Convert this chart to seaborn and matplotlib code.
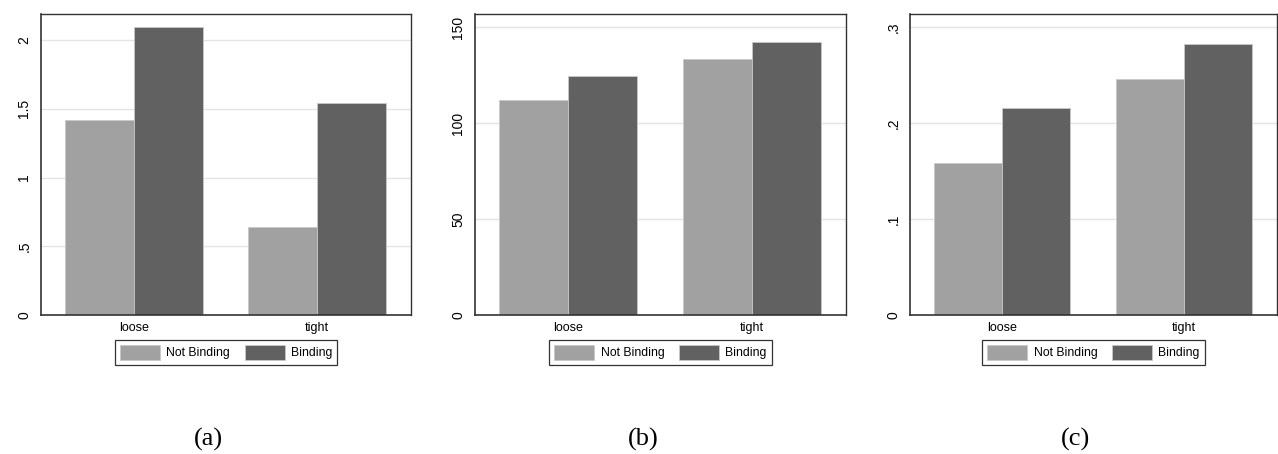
import pandas as pd
import matplotlib
matplotlib.use("Agg")
import matplotlib.pyplot as plt
import seaborn as sns

# values
regimes = ["loose", "tight"]
groups = ["Not Binding", "Binding"]
panel_a = {"Not Binding": [1.418, 0.638], "Binding": [2.095, 1.544]}
panel_b = {"Not Binding": [112.0, 133.3], "Binding": [124.3, 142.4]}
panel_c = {"Not Binding": [0.1587, 0.2457], "Binding": [0.2157, 0.2819]}

ticks_a = [0, 0.5, 1, 1.5, 2]
labels_a = ["0", ".5", "1", "1.5", "2"]
ticks_b = [0, 50, 100, 150]
labels_b = ["0", "50", "100", "150"]
ticks_c = [0, 0.1, 0.2, 0.3]
labels_c = ["0", ".1", ".2", ".3"]

ylims = [2.19, 156.8, 0.3135]
captions = ["(a)", "(b)", "(c)"]

sns.set_style("white")
plt.rcParams['font.family'] = ['Liberation Sans Narrow', 'Liberation Sans', 'DejaVu Sans']
plt.rcParams['text.color'] = 'black'
plt.rcParams['xtick.color'] = 'black'
plt.rcParams['ytick.color'] = 'black'

colors = {"Not Binding": "#a1a1a1", "Binding": "#616161"}

W, H = 1278, 454
fig = plt.figure(figsize=(W / 100, H / 100), dpi=100)

# axes boxes in pixels: left, right, top, bottom
boxes = [(41, 411, 14, 315), (475, 846, 14, 315), (910, 1277, 14, 315)]
cap_x = [208, 643, 1075]

panels = [(panel_a, ticks_a, labels_a),
          (panel_b, ticks_b, labels_b),
          (panel_c, ticks_c, labels_c)]

for i, (vals, ticks, labels) in enumerate(panels):
    l, r, t, b = boxes[i]
    ax = fig.add_axes([l / W, (H - b) / H, (r - l) / W, (b - t) / H])
    rows = []
    for g in groups:
        for reg, v in zip(regimes, vals[g]):
            rows.append({"regime": reg, "group": g, "value": v})
    df = pd.DataFrame(rows)
    sns.barplot(data=df, x="regime", y="value", hue="group", order=regimes,
                hue_order=groups, palette=colors, width=0.75, ax=ax,
                edgecolor="#c8c8c8", linewidth=0.6, saturation=1)
    ax.set_xlim(-0.508, 1.513)
    ax.set_ylim(0, ylims[i])
    ax.set_yticks(ticks)
    ax.set_yticklabels(labels, rotation=90, va="center", fontsize=10)
    ax.tick_params(axis="y", length=4, width=0.8, pad=3, color="black")
    ax.tick_params(axis="x", length=0, pad=5, labelsize=9)
    ax.set_xlabel("")
    ax.set_ylabel("")
    for tk in ticks[1:]:
        ax.axhline(tk, color="#e4e4e4", lw=1, zorder=0)
    for side in ["left", "bottom", "top", "right"]:
        ax.spines[side].set_visible(True)
        ax.spines[side].set_color("#333333")
    ax.spines["left"].set_linewidth(1.2)
    ax.spines["bottom"].set_linewidth(1.2)
    ax.spines["top"].set_linewidth(1.0)
    ax.spines["right"].set_linewidth(1.0)
    ax.set_axisbelow(True)

    ax.get_legend().remove()
    handles = [plt.Rectangle((0, 0), 1, 1, fc=colors[g], ec="#c8c8c8", lw=0.6) for g in groups]
    leg = ax.legend(handles, groups, loc="upper center", bbox_to_anchor=(0.5, -0.083),
                    ncol=2, frameon=True, fancybox=False, fontsize=8.8,
                    handlelength=3.3, handleheight=1.5, handletextpad=0.5,
                    columnspacing=1.2, borderpad=0.4, borderaxespad=0)
    leg.get_frame().set_edgecolor("black")
    leg.get_frame().set_linewidth(0.9)

    fig.text(cap_x[i] / W, (H - 439) / H, captions[i], ha="center", va="center",
             fontsize=19, family="Liberation Serif")

fig.savefig("out.png", dpi=100)
